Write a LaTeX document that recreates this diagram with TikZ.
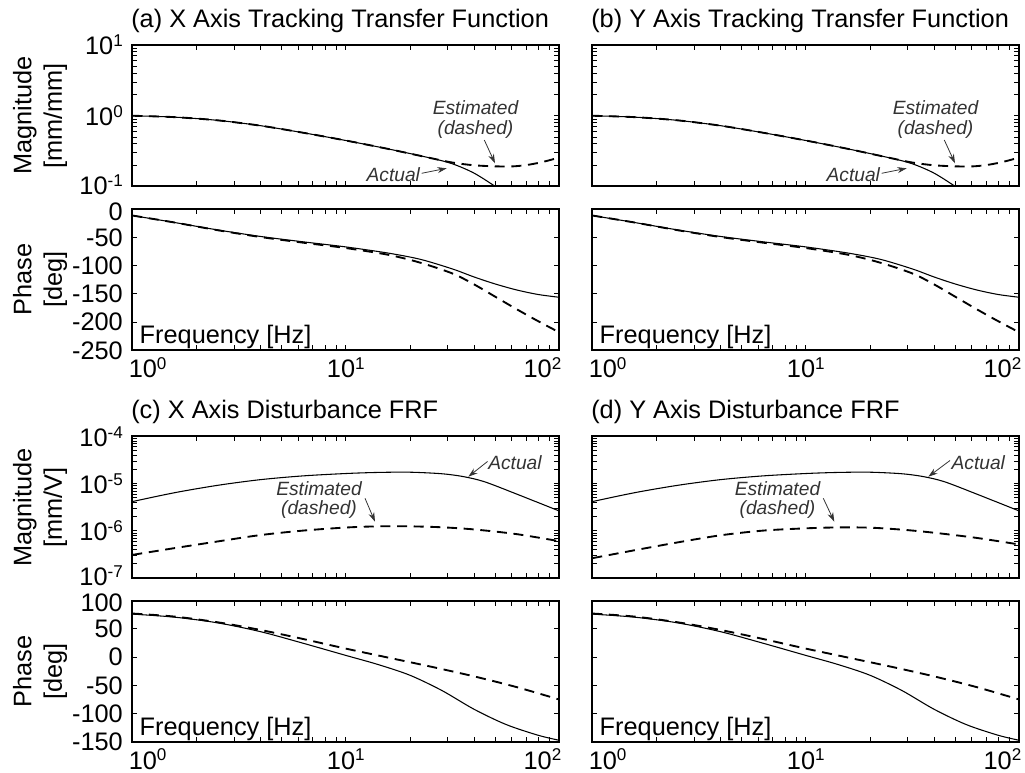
\documentclass[tikz,border=0pt]{standalone}
\usepackage{fontspec}
\setmainfont{Liberation Sans}
\usetikzlibrary{arrows.meta}

% power-of-ten tick label
\newcommand\tenpow[1]{10\raisebox{6.3pt}{\fontsize{12.8}{13}\selectfont #1}}

% log-spaced ticks on top and bottom edges (scope: x = decades, y = px downward)
\newcommand\xlogticks{%
  \foreach \d in {0,1}{\foreach \k in {2,...,9}{%
    \pgfmathsetmacro\tx{\d+log10(\k)}%
    \draw[tickline] (\tx,0) -- (\tx,5) (\tx,141.5) -- (\tx,136.5);}}%
  \draw[tickline] (1,0) -- (1,5) (1,141.5) -- (1,136.5);}

% magnitude box: #1 left x, #2 top y, #3 number of decades
\newcommand\magframe[3]{%
  \begin{scope}[shift={(#1,#2)}, x=160.125pt]
    \xlogticks
    \pgfmathsetmacro\dpx{141.5/#3}
    \foreach \d in {1,...,#3}{\foreach \k in {1,...,9}{%
      \pgfmathsetmacro\ty{141.5-(\d-1+log10(\k))*\dpx}%
      \draw[tickline] (0,\ty) -- (0.0234,\ty) (2,\ty) -- (1.9766,\ty);}}
    \draw[plotframe] (0,0) rectangle (2,141.5);
  \end{scope}}

% phase box: #1 left x, #2 top y
\newcommand\phaseframe[2]{%
  \begin{scope}[shift={(#1,#2)}, x=160.125pt]
    \xlogticks
    \foreach \j in {1,...,4}{%
      \draw[tickline] (0,{28.3*\j}) -- (0.0234,{28.3*\j}) (2,{28.3*\j}) -- (1.9766,{28.3*\j});}
    \draw[plotframe] (0,0) rectangle (2,141.5);
  \end{scope}}

% frequency decade labels under a phase box: #1 left x, #2 baseline y, #3 name suffix
\newcommand\freqlabels[3]{%
  \node[lbl, anchor=base west] (xz#3) at ({#1-3.5},#2) {\tenpow{0}};
  \node[lbl, anchor=base] (xo#3) at ({#1+213.5},#2) {\tenpow{1}};
  \node[lbl, anchor=base east] (xt#3) at ({#1+429},#2) {\tenpow{2}};}

% tracking transfer function curves
\newcommand\trackmag[1]{%
  \begin{scope}[shift={(#1,115.75)}, x=160.125pt, y=53.0625pt]
    \clip (0,1) rectangle (2,-1);
    \draw[actual] plot[smooth] coordinates {(0,0) (0.2,-0.02) (0.4,-0.065) (0.6,-0.14) (0.8,-0.24) (1.0,-0.35) (1.2,-0.47) (1.4,-0.60) (1.5,-0.68) (1.6,-0.81) (1.7,-1.0) (1.75,-1.12)};
    \draw[estim] plot[smooth] coordinates {(0,0) (0.2,-0.02) (0.4,-0.065) (0.6,-0.14) (0.8,-0.24) (1.0,-0.35) (1.2,-0.47) (1.4,-0.60) (1.5,-0.662) (1.6,-0.70) (1.7,-0.715) (1.78,-0.716) (1.85,-0.695) (1.92,-0.655) (2.0,-0.59)};
  \end{scope}}
\newcommand\trackphase[1]{%
  \begin{scope}[shift={(#1,209)}, x=160.125pt, y=0.4245pt]
    \clip (0,0) rectangle (2,-250);
    \draw[actual] plot[smooth] coordinates {(0,-11.5) (0.2,-24) (0.4,-37) (0.6,-48.5) (0.8,-58) (1.0,-67) (1.2,-78) (1.35,-89) (1.5,-106) (1.6,-120) (1.7,-132.5) (1.8,-143) (1.9,-151) (2.0,-156)};
    \draw[estim] plot[smooth] coordinates {(0,-11.5) (0.2,-24) (0.4,-37.5) (0.6,-49.5) (0.8,-59.5) (1.0,-69) (1.2,-81) (1.35,-95) (1.5,-114) (1.6,-133) (1.7,-155) (1.8,-177) (1.9,-198) (2.0,-218)};
  \end{scope}}

% disturbance FRF curves
\newcommand\distmagactual[1]{%
  \begin{scope}[shift={(#1,247.83)}, x=160.125pt, y=35.375pt]
    \clip (0,-4) rectangle (2,-7);
    \draw[actual] plot[smooth] coordinates {(0,-5.38) (0.2,-5.19) (0.4,-5.035) (0.6,-4.915) (0.8,-4.835) (1.0,-4.785) (1.15,-4.762) (1.3,-4.757) (1.45,-4.79) (1.55,-4.85) (1.65,-4.96) (1.8,-5.22) (2.0,-5.58)};
  \end{scope}}
\newcommand\distphase[1]{%
  \begin{scope}[shift={(#1,657.1)}, x=160.125pt, y=0.4245pt]
    \clip (0,100) rectangle (2,-150);
    \draw[actual] plot[smooth] coordinates {(0,76) (0.2,70.5) (0.4,60.5) (0.6,45) (0.8,24.5) (1.0,3) (1.15,-13) (1.3,-32) (1.45,-59) (1.6,-92) (1.75,-119) (1.9,-138) (2.0,-147)};
    \draw[estim] plot[smooth] coordinates {(0,77) (0.2,71.5) (0.4,61.5) (0.6,48) (0.8,32) (1.0,15) (1.2,-1) (1.4,-17) (1.6,-34) (1.8,-53) (2.0,-75)};
  \end{scope}}

\begin{document}
\begin{tikzpicture}[x=0.75pt, y=-0.75pt,
  every node/.style={inner sep=0pt, outer sep=0pt},
  plotframe/.style={line width=1.5pt},
  tickline/.style={line width=0.7pt},
  actual/.style={line width=0.8pt},
  estim/.style={line width=1.4pt, dash pattern=on 7.5pt off 5pt},
  lbl/.style={font=\fontsize{19}{22.8}\selectfont},
  ylab/.style={lbl, align=center, rotate=90},
  note/.style={font=\fontsize{14.4}{16}\selectfont\itshape, text=black!80},
  pointer/.style={draw=black!80, line width=0.6pt, -{Stealth[length=7pt,width=4.5pt]}},
]
\useasboundingbox (0,0) rectangle (1025,773);

% ---------- curves ----------
\trackmag{132.3}
\trackmag{592.3}
\trackphase{132.3}
\trackphase{592.3}

\distmagactual{132.3}
\begin{scope}[shift={(132.3,247.83)}, x=160.125pt, y=35.375pt]
  \clip (0,-4) rectangle (2,-7);
  \draw[estim] plot[smooth] coordinates {(0,-6.51) (0.2,-6.365) (0.4,-6.225) (0.6,-6.09) (0.8,-5.995) (1.0,-5.93) (1.15,-5.905) (1.3,-5.905) (1.45,-5.925) (1.6,-5.97) (1.8,-6.07) (2.0,-6.22)};
\end{scope}
\distmagactual{592.3}
\begin{scope}[shift={(592.3,247.83)}, x=160.125pt, y=35.375pt]
  \clip (0,-4) rectangle (2,-7);
  \draw[estim] plot[smooth] coordinates {(0,-6.58) (0.2,-6.41) (0.4,-6.245) (0.6,-6.095) (0.8,-5.995) (1.0,-5.947) (1.15,-5.928) (1.3,-5.933) (1.45,-5.975) (1.6,-6.04) (1.8,-6.15) (2.0,-6.29)};
\end{scope}
\distphase{132.3}
\distphase{592.3}

% ---------- boxes and ticks ----------
\magframe{132.3}{45}{2}
\magframe{592.3}{45}{2}
\phaseframe{132.3}{209}
\phaseframe{592.3}{209}
\magframe{132.3}{436.5}{3}
\magframe{592.3}{436.5}{3}
\phaseframe{132.3}{600.5}
\phaseframe{592.3}{600.5}

% ---------- titles ----------
\node[lbl, anchor=base west] (ta) at (131.3,27.5) {(a) X Axis Tracking Transfer Function};
\node[lbl, anchor=base west] (tb) at (591.3,27.5) {(b) Y Axis Tracking Transfer Function};
\node[lbl, anchor=base west] (tc) at (131.3,418.5) {(c) X Axis Disturbance FRF};
\node[lbl, anchor=base west] (td) at (591.3,418.5) {(d) Y Axis Disturbance FRF};

% ---------- axis titles ----------
\node[ylab] (yma) at (40,115.75) {Magnitude\\{[mm/mm]}};
\node[ylab] (ypa) at (40,279.75) {Phase\\{[deg]}};
\node[ylab] (ymc) at (40,507.25) {Magnitude\\{[mm/V]}};
\node[ylab] (ypc) at (40,671.25) {Phase\\{[deg]}};

% ---------- y tick labels ----------
\node[lbl, anchor=east] (ma1) at (122.8,45) {\tenpow{1}};
\node[lbl, anchor=east] (ma0) at (122.8,115.75) {\tenpow{0}};
\node[lbl, anchor=east] (mam) at (122.8,184.5) {\tenpow{-1}};
\node[lbl, anchor=east] (pa0) at (122.8,212) {0};
\foreach \v [count=\i from 1] in {-50,-100,-150,-200,-250}
  \node[lbl, anchor=east] (pa\i) at (122.8,{209+28.3*\i}) {\v};
\node[lbl, anchor=east] (mc4) at (122.8,436.5) {\tenpow{-4}};
\node[lbl, anchor=east] (mc5) at (122.8,483.67) {\tenpow{-5}};
\node[lbl, anchor=east] (mc6) at (122.8,530.83) {\tenpow{-6}};
\node[lbl, anchor=east] (mc7) at (122.8,576) {\tenpow{-7}};
\node[lbl, anchor=east] (pc0) at (122.8,603) {100};
\foreach \v [count=\i from 1] in {50,0,-50,-100,-150}
  \node[lbl, anchor=east] (pc\i) at (122.8,{600.5+28.3*\i}) {\v};

% ---------- frequency labels ----------
\freqlabels{132.3}{377.5}{a}
\freqlabels{592.3}{377.5}{b}
\freqlabels{132.3}{769}{c}
\freqlabels{592.3}{769}{d}
\node[lbl, anchor=base west] (fa) at (139.7,343.5) {Frequency [Hz]};
\node[lbl, anchor=base west] (fb) at (599.7,343.5) {Frequency [Hz]};
\node[lbl, anchor=base west] (fc) at (139.7,735) {Frequency [Hz]};
\node[lbl, anchor=base west] (fd) at (599.7,735) {Frequency [Hz]};

% ---------- annotations (a) ----------
\node[note, anchor=base] (esta) at (475.5,115) {Estimated};
\node[note, anchor=base] (dsha) at (475.5,134.5) {(dashed)};
\coordinate (esta-s) at (484.3,140);
\coordinate (esta-t) at (495,163.3);
\draw[pointer] (esta-s) -- (esta-t);
\node[note, anchor=base] (acta) at (393.3,181.7) {Actual};
\coordinate (acta-s) at (421.7,173.3);
\coordinate (acta-t) at (446.7,168.3);
\draw[pointer] (acta-s) -- (acta-t);

% ---------- annotations (b) ----------
\node[note, anchor=base] (estb) at (935.5,115) {Estimated};
\node[note, anchor=base] (dshb) at (935.5,134.5) {(dashed)};
\coordinate (estb-s) at (944.3,140);
\coordinate (estb-t) at (955,163.3);
\draw[pointer] (estb-s) -- (estb-t);
\node[note, anchor=base] (actb) at (853.3,181.7) {Actual};
\coordinate (actb-s) at (881.7,173.3);
\coordinate (actb-t) at (906.7,168.3);
\draw[pointer] (actb-s) -- (actb-t);

% ---------- annotations (c) ----------
\node[note, anchor=base] (actc) at (515,469.3) {Actual};
\coordinate (actc-s) at (487.5,461.5);
\coordinate (actc-t) at (468.3,476.7);
\draw[pointer] (actc-s) -- (actc-t);
\node[note, anchor=base] (estc) at (319,495) {Estimated};
\node[note, anchor=base] (dshc) at (319,514.3) {(dashed)};
\coordinate (estc-s) at (365,498.3);
\coordinate (estc-t) at (375,521.7);
\draw[pointer] (estc-s) -- (estc-t);

% ---------- annotations (d) ----------
\node[note, anchor=base] (actd) at (978.3,469.3) {Actual};
\coordinate (actd-s) at (950,460.5);
\coordinate (actd-t) at (928.3,476.7);
\draw[pointer] (actd-s) -- (actd-t);
\node[note, anchor=base] (estd) at (777.5,495) {Estimated};
\node[note, anchor=base] (dshd) at (777.5,514.3) {(dashed)};
\coordinate (estd-s) at (823.3,498.3);
\coordinate (estd-t) at (834.3,521.7);
\draw[pointer] (estd-s) -- (estd-t);
\end{tikzpicture}
\end{document}
